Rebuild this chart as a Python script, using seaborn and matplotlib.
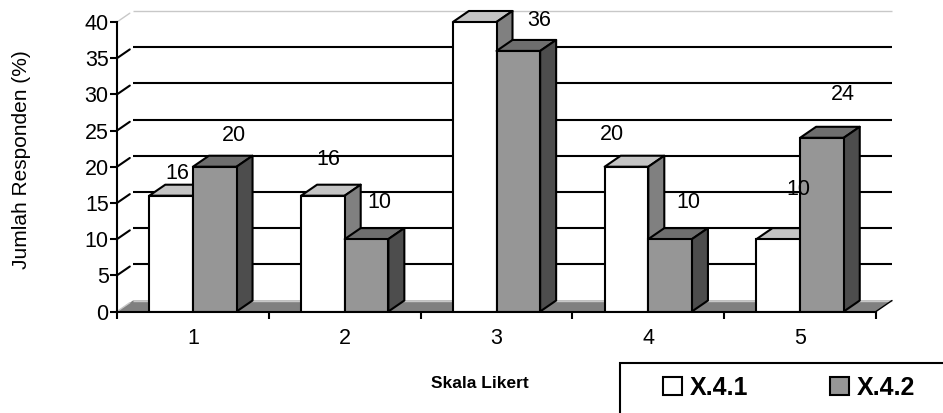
import numpy as np
import pandas as pd
import matplotlib
matplotlib.use('Agg')
import matplotlib.pyplot as plt
import seaborn as sns
from matplotlib.patches import Polygon, Rectangle
from matplotlib.transforms import ScaledTranslation

# values
skala = ['1', '2', '3', '4', '5']
x41 = [16, 16, 40, 20, 10]
x42 = [20, 10, 36, 10, 24]
y_ticks = [0, 5, 10, 15, 20, 25, 30, 35, 40]
seri_names = ['X.4.1', 'X.4.2']

# label shift from bar top-centre, in pixels (the old chart puts them all over)
label_shift_41 = [(6, 22), (5, 36), None, (-15, 32), (20, 50)]
label_shift_42 = [(19, 31), (13, 37), (21, 30), (18, 37), (21, 43)]

W, H = 943, 413
DX, DY = 16, 11  # depth of the fake 3d, pixels

sns.set_theme(style='white')
plt.rcParams['font.family'] = ['Liberation Sans', 'DejaVu Sans']

df = pd.DataFrame({'skala': skala * 2,
                   'nilai': x41 + x42,
                   'seri': [seri_names[0]] * 5 + [seri_names[1]] * 5})

fig = plt.figure(figsize=(W / 100, H / 100), dpi=100)
ax = fig.add_axes([117 / W, 1 - 311.5 / H, 759 / W, 289.5 / H])

sns.barplot(data=df, x='skala', y='nilai', hue='seri', palette=['white', '#969696'],
            width=0.575, gap=0, saturation=1, edgecolor='black', linewidth=1.5,
            ax=ax, zorder=3, legend=False)
ax.set_xlim(-0.5, 4.5)
ax.set_ylim(0, 40)

# move a shape back into the depth of the chart
depth = ax.transData + ScaledTranslation(DX / 100, DY / 100, fig.dpi_scale_trans)


def offset_pts(x, y, frac=1.0):
    p = ax.transData.transform((x, y))
    return ax.transData.inverted().transform(p + (DX * frac, DY * frac))


# floor and back wall
x0, x1 = ax.get_xlim()
ax.add_patch(Polygon([(x0, 0), offset_pts(x0, 0), offset_pts(x1, 0), (x1, 0)],
                     closed=True, fc='#808080', ec='none', zorder=1, clip_on=False))
for t in y_ticks:
    col = '#c8c8c8' if t in (y_ticks[0], y_ticks[-1]) else 'black'
    lw = 1 if col != 'black' else 1.5
    ax.plot([x0, x1], [t, t], transform=depth, color=col, lw=lw, zorder=2, clip_on=False,
            solid_capstyle='butt')
    a = offset_pts(x0, t, 0.8)
    ax.plot([x0, a[0]], [t, a[1]], color=col, lw=lw, zorder=2, clip_on=False)
b = offset_pts(x1, 0)
ax.plot([x1, b[0]], [0, b[1]], color='black', lw=1, zorder=2, clip_on=False)

# top and side of every bar, from the bars seaborn drew
n_cat = len(skala)
for i, bar in enumerate(ax.patches[:2 * n_cat]):
    x, w, h = bar.get_x(), bar.get_width(), bar.get_height()
    fc_top, fc_side = ('#c4c4c4', '#808080') if i < n_cat else ('#6e6e6e', '#4d4d4d')
    z = 4 if i >= n_cat else 3
    bar.set_zorder(z + 0.5)
    ax.add_patch(Polygon([(x, h), offset_pts(x, h), offset_pts(x + w, h), (x + w, h)],
                         closed=True, fc=fc_top, ec='black', lw=1.5, zorder=z, clip_on=False,
                         joinstyle='round'))
    ax.add_patch(Polygon([(x + w, 0), (x + w, h), offset_pts(x + w, h), offset_pts(x + w, 0)],
                         closed=True, fc=fc_side, ec='black', lw=1.5, zorder=z, clip_on=False,
                         joinstyle='round'))

# labels
for i, bar in enumerate(ax.patches[:2 * n_cat]):
    shift = (label_shift_41 + label_shift_42)[i]
    if shift is None:
        continue
    val = (x41 + x42)[i]
    ax.annotate(str(val), (bar.get_x() + bar.get_width() / 2, val),
                xytext=(shift[0] * 0.72, shift[1] * 0.72), textcoords='offset points',
                ha='center', va='center', fontsize=15.5, color='black', zorder=6,
                annotation_clip=False)

# axes
sns.despine(ax=ax, top=True, right=True)
for side in ['left', 'bottom']:
    ax.spines[side].set_linewidth(1.5)
    ax.spines[side].set_color('black')
    ax.spines[side].set_zorder(5)
ax.set_yticks(y_ticks)
ax.set_xticks(np.arange(n_cat + 1) - 0.5, minor=False)
ax.set_xticklabels([])
ax.set_xticks(np.arange(n_cat), labels=skala, minor=True)
ax.tick_params(axis='x', which='major', length=5, width=1.5, color='black', bottom=True)
ax.tick_params(axis='x', which='minor', length=0, pad=12, labelsize=15.5, labelcolor='black', bottom=False)
ax.tick_params(axis='y', length=5, width=1.5, color='black', left=True, pad=1, labelsize=15.5,
               labelcolor='black')
ax.set_xlabel('')
ax.set_ylabel('')
fig.text(22 / W, 1 - 160 / H, 'Jumlah Responden (%)', rotation=90, ha='center', va='center',
         fontsize=15, color='black')
fig.text(480 / W, 1 - 383 / H, 'Skala Likert', ha='center', va='center', fontsize=12.5,
         fontweight='bold', color='black')

# legend box runs off the page like in the scan
fig.add_artist(Rectangle((620 / W, -0.05), 0.5, 1.05 - 363 / H, transform=fig.transFigure,
                         fc='white', ec='black', lw=1.5))
handles = [Rectangle((0, 0), 1, 1, fc=c, ec='black', lw=1.5) for c in ('white', '#969696')]
fig.legend(handles, seri_names, loc='center', bbox_to_anchor=(789 / W, 1 - 388 / H), ncol=2,
           frameon=False, prop={'weight': 'bold', 'size': 18}, handlelength=0.75, handleheight=0.75,
           handletextpad=0.3, columnspacing=3.3, labelcolor='black')

fig.savefig('out.png', dpi=100)
